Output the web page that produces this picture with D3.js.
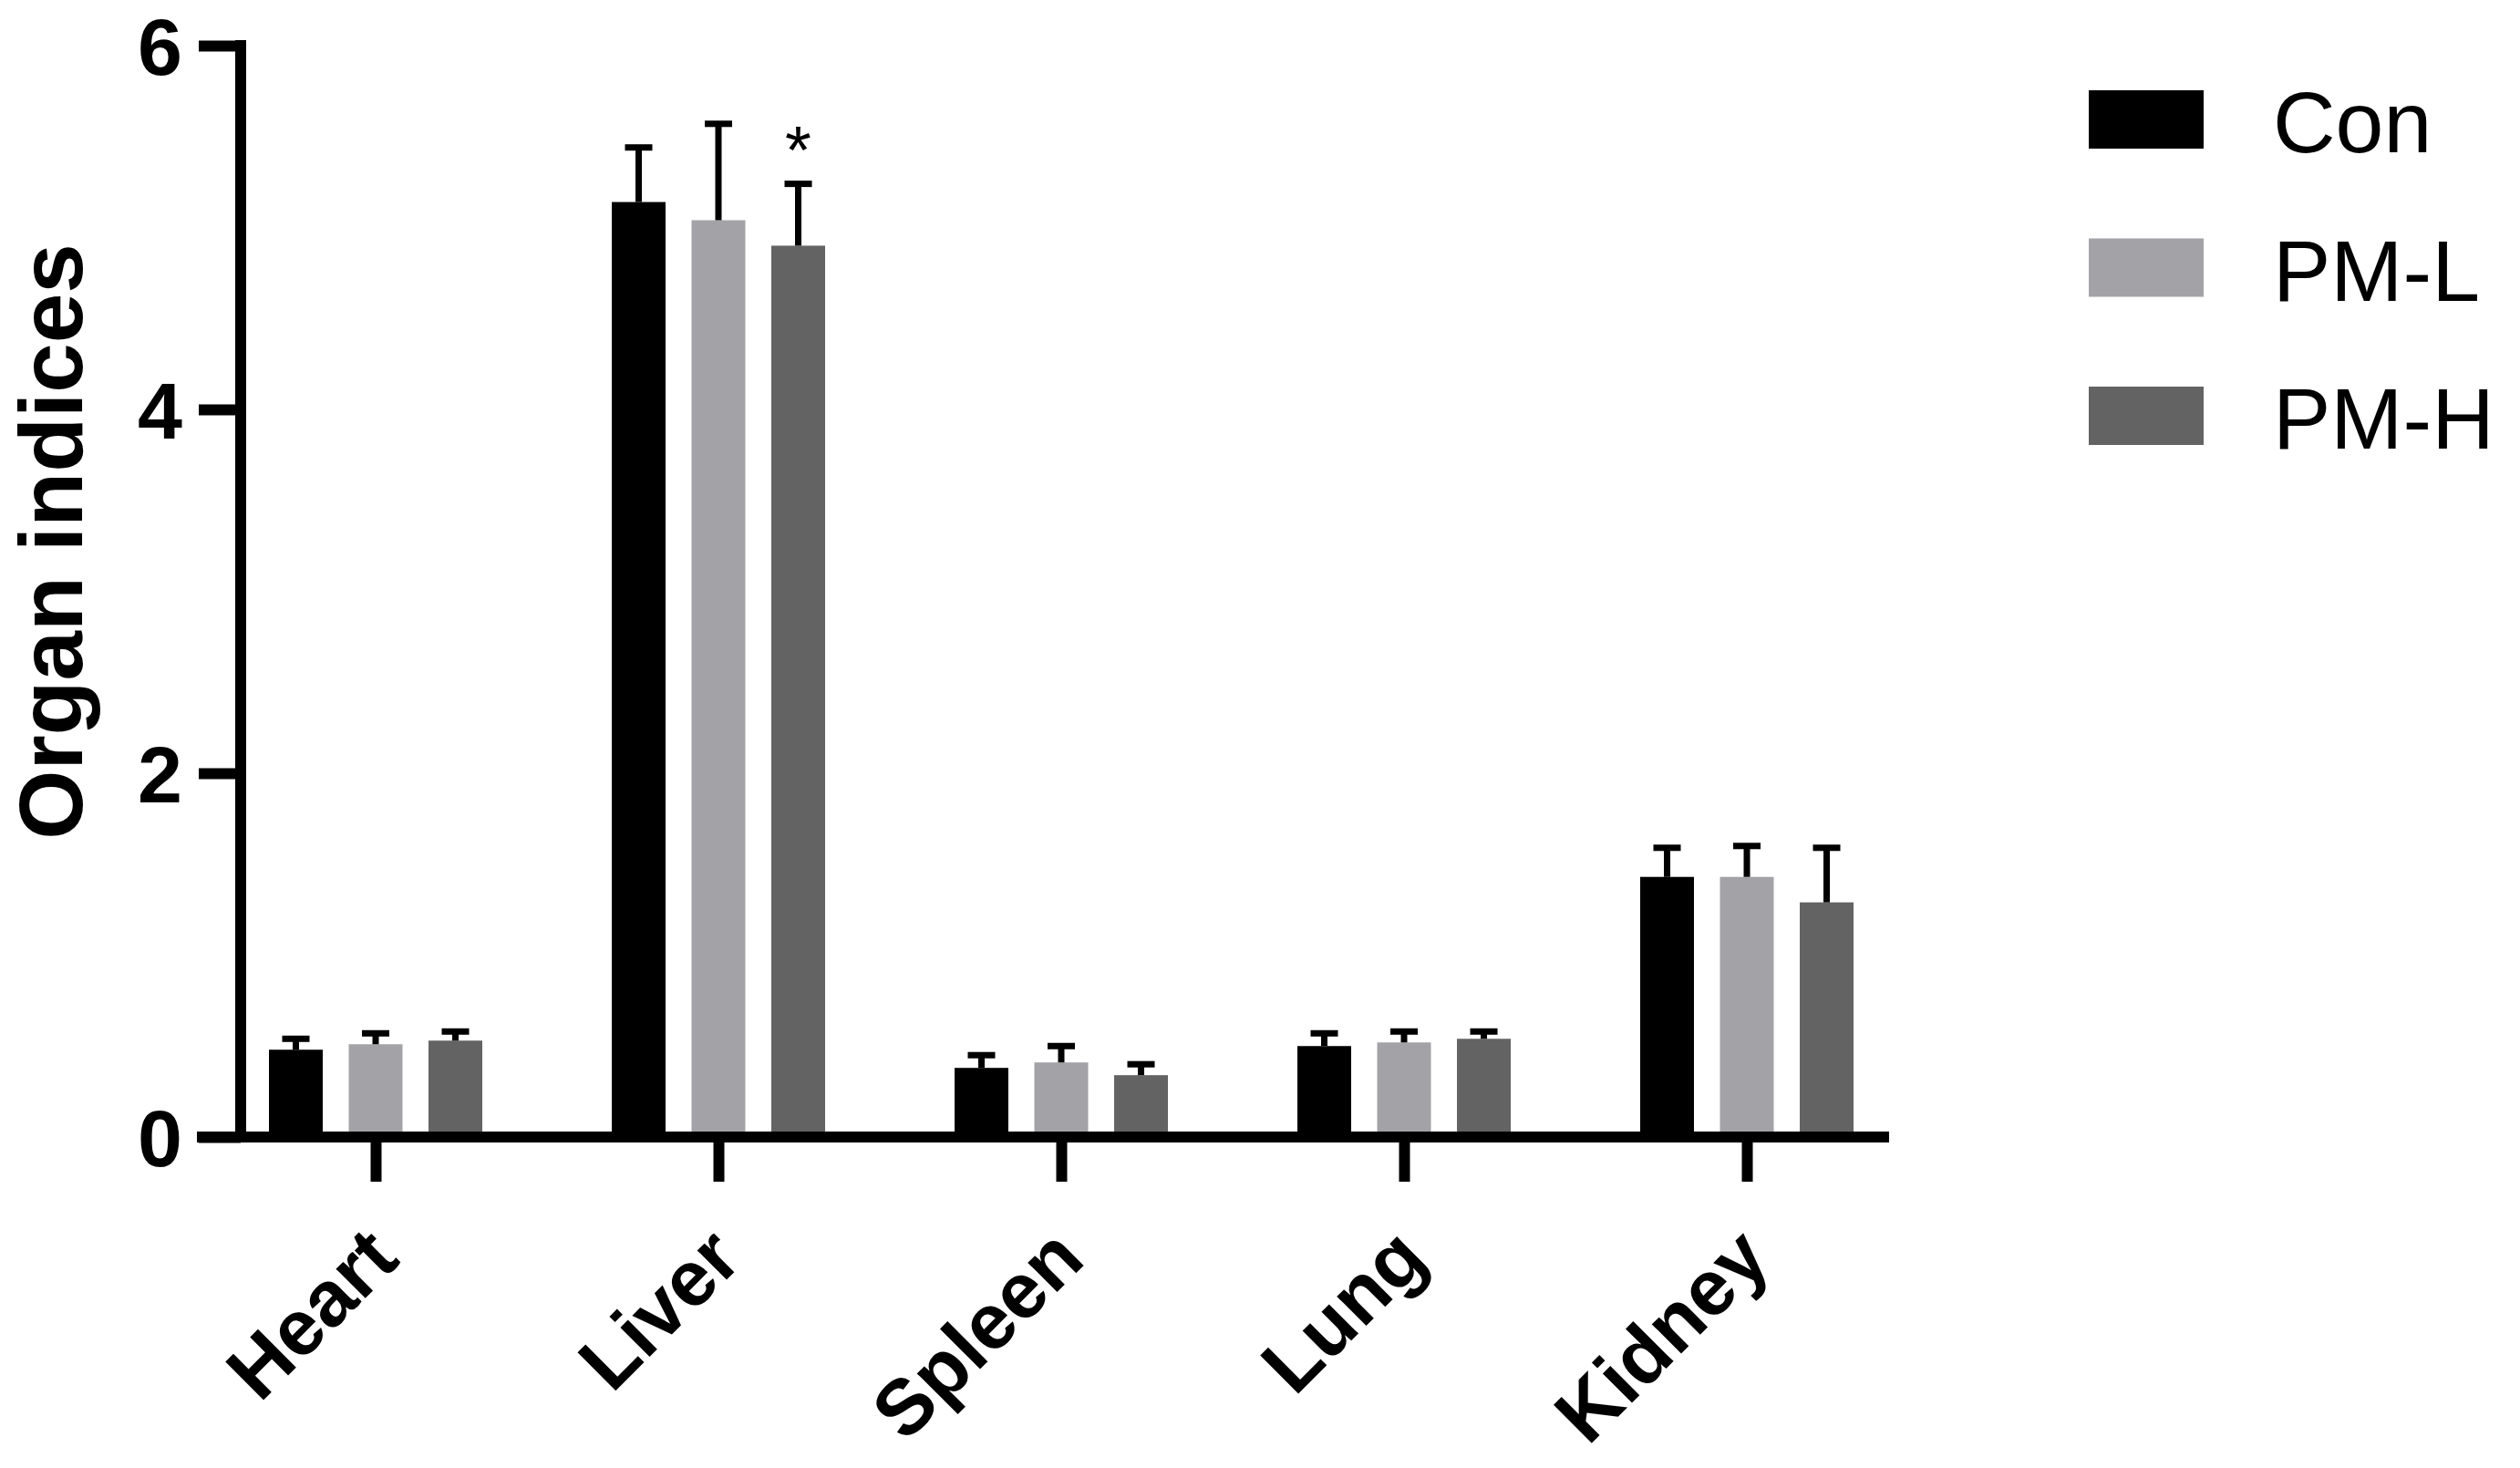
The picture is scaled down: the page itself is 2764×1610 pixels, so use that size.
<!DOCTYPE html>
<html lang="en">
<head>
    <meta charset="UTF-8">
    <title>Organ indices</title>
    <script src="https://d3js.org/d3.v7.min.js"></script>
    <style>
        body {
            margin: 0;
            padding: 0;
            background: #ffffff;
        }

        svg {
            display: block;
            font-family: "Liberation Sans", Arial, sans-serif;
        }

        .axis text {
            font-weight: bold;
            fill: #000;
        }

        .axis line {
            stroke: #000;
            stroke-width: 12;
        }
    </style>
</head>
<body>

    <svg id="chart"></svg>

    <script>
        // 数据：器官类别与三个组的均值、误差（SD，仅上方）
        const categories = ["Heart", "Liver", "Spleen", "Lung", "Kidney"];
        const groups = ["Con", "PM-L", "PM-H"];
        const conValues = [0.48, 5.14, 0.38, 0.50, 1.43];
        const conErrors = [0.06, 0.30, 0.07, 0.07, 0.16];
        const pmlValues = [0.51, 5.04, 0.41, 0.52, 1.43];
        const pmlErrors = [0.06, 0.53, 0.09, 0.06, 0.17];
        const pmhValues = [0.53, 4.90, 0.34, 0.54, 1.29];
        const pmhErrors = [0.05, 0.34, 0.06, 0.04, 0.30];
        const yTicks = [0, 2, 4, 6];
        const colors = ["#000000", "#a3a3a7", "#636363"];
        // 显著性标记：Liver 的 PM-H 组
        const marks = [{ category: "Liver", group: "PM-H", text: "*" }];

        const seriesValues = [conValues, pmlValues, pmhValues];
        const seriesErrors = [conErrors, pmlErrors, pmhErrors];

        const W = 2764, H = 1610;
        const axisX = 264;       // y 轴位置
        const axisY = 1247;      // x 轴位置

        const svg = d3.select("#chart")
            .attr("width", W)
            .attr("height", H);

        // 比例尺
        const x = d3.scalePoint()
            .domain(categories)
            .range([224, 2104])
            .padding(0.5);

        const xInner = d3.scaleBand()
            .domain(groups)
            .range([-117, 117])
            .paddingInner(0.326)
            .paddingOuter(0);

        const y = d3.scaleLinear()
            .domain([0, 6])
            .range([axisY, 50]);

        const color = d3.scaleOrdinal().domain(groups).range(colors);

        // 整理成扁平数据
        const bars = [];
        categories.forEach((c, i) => {
            groups.forEach((g, j) => {
                bars.push({ category: c, group: g, value: seriesValues[j][i], err: seriesErrors[j][i] });
            });
        });

        const cx = d => x(d.category) + xInner(d.group) + xInner.bandwidth() / 2;

        // 柱子
        svg.append("g")
            .selectAll("rect")
            .data(bars)
            .join("rect")
            .attr("x", d => x(d.category) + xInner(d.group))
            .attr("y", d => y(d.value))
            .attr("width", xInner.bandwidth())
            .attr("height", d => y(0) - y(d.value))
            .attr("fill", d => color(d.group));

        // 误差线（只画上半部分）
        const err = svg.append("g").attr("stroke", "#000").attr("stroke-width", 7);
        err.selectAll(".stem")
            .data(bars)
            .join("line")
            .attr("class", "stem")
            .attr("x1", cx).attr("x2", cx)
            .attr("y1", d => y(d.value))
            .attr("y2", d => y(d.value + d.err));
        err.selectAll(".cap")
            .data(bars)
            .join("line")
            .attr("class", "cap")
            .attr("x1", d => cx(d) - 15).attr("x2", d => cx(d) + 15)
            .attr("y1", d => y(d.value + d.err))
            .attr("y2", d => y(d.value + d.err));

        // 显著性星号
        svg.selectAll(".mark")
            .data(marks)
            .join("text")
            .attr("class", "mark")
            .attr("x", d => cx(d))
            .attr("y", d => {
                const b = bars.find(e => e.category === d.category && e.group === d.group);
                return y(b.value + b.err) - 12;
            })
            .attr("text-anchor", "middle")
            .style("font-size", "74px")
            .text(d => d.text);

        // y 轴
        const yAxis = svg.append("g")
            .attr("class", "axis y-axis")
            .attr("transform", `translate(${axisX},0)`)
            .call(d3.axisLeft(y).tickValues(yTicks).tickSize(46).tickPadding(18).tickFormat(d3.format("d")));
        yAxis.select(".domain").remove();
        yAxis.selectAll("text").style("font-size", "88px").attr("dy", "0.36em");
        yAxis.append("line")
            .attr("x1", 0).attr("x2", 0)
            .attr("y1", y(6) - 6).attr("y2", axisY);

        // x 轴
        const xAxis = svg.append("g")
            .attr("class", "axis x-axis")
            .attr("transform", `translate(0,${axisY})`)
            .call(d3.axisBottom(x).tickSize(49));
        xAxis.select(".domain").remove();
        xAxis.append("line")
            .attr("x1", 216).attr("x2", 2072)
            .attr("y1", 0).attr("y2", 0);
        xAxis.selectAll(".tick text")
            .attr("x", 0).attr("y", 0).attr("dy", 0)
            .attr("transform", "translate(28,137) rotate(-45)")
            .style("text-anchor", "end")
            .style("font-size", "86px");

        // y 轴标题
        svg.append("text")
            .attr("transform", "translate(90,594) rotate(-90)")
            .attr("text-anchor", "middle")
            .style("font-size", "98px")
            .style("font-weight", "bold")
            .text("Organ indices");

        // 图例
        const legend = svg.append("g")
            .attr("transform", "translate(2291,99)");
        const item = legend.selectAll("g")
            .data(groups)
            .join("g")
            .attr("transform", (d, i) => `translate(0,${i * 162.5})`);
        item.append("rect")
            .attr("width", 126)
            .attr("height", 64)
            .attr("fill", d => color(d));
        item.append("text")
            .attr("x", 202)
            .attr("y", 68)
            .style("font-size", "95px")
            .text(d => d);
    </script>
</body>
</html>
